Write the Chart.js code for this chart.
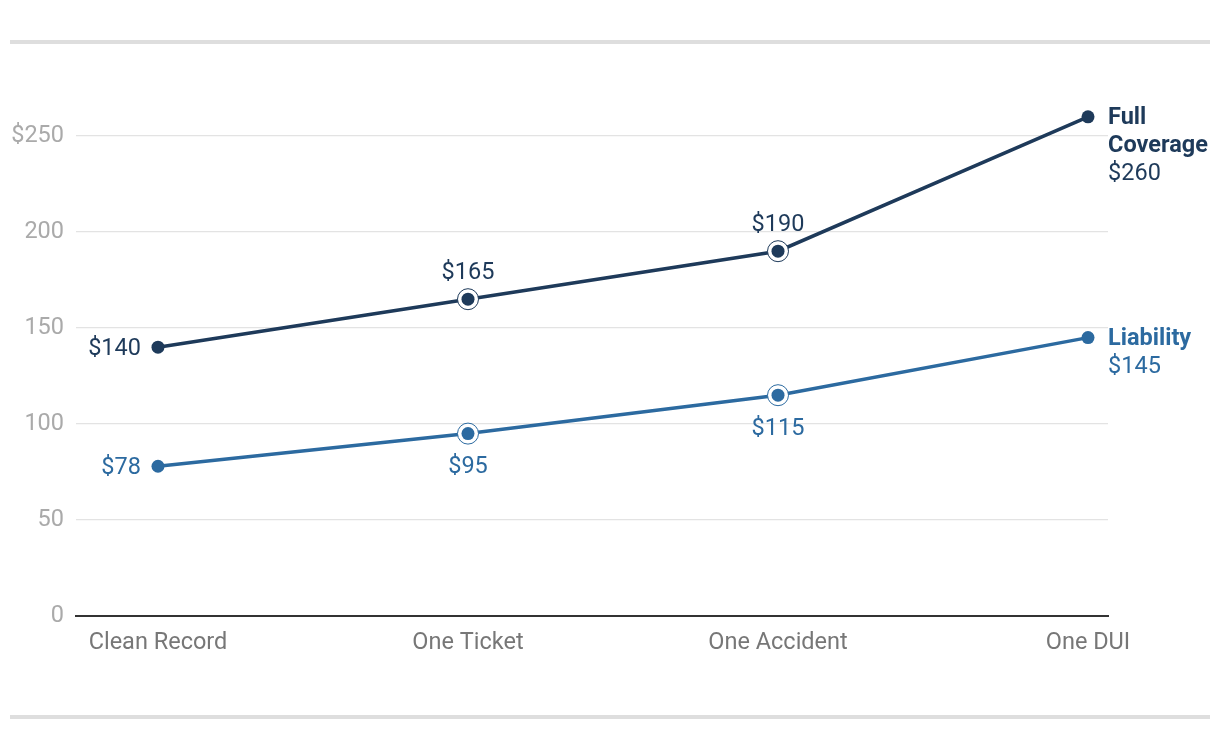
<!DOCTYPE html>
<html>
<head>
<meta charset="utf-8">
<script src="https://cdn.jsdelivr.net/npm/chart.js@4.4.1/dist/chart.umd.min.js"></script>
<style>
  html, body { margin: 0; padding: 0; background: #fff; }
  #wrap { position: relative; width: 1220px; height: 750px; }
  .rule { position: absolute; left: 10px; width: 1200px; height: 4px; background: #dedede; }
  canvas { position: absolute; left: 0; top: 0; }
</style>
</head>
<body>
<div id="wrap">
  <div class="rule" style="top:40px"></div>
  <div class="rule" style="top:715px"></div>
  <canvas id="c" width="1220" height="750"></canvas>
</div>
<script>
const categories = ["Clean Record", "One Ticket", "One Accident", "One DUI"];
const fullCoverage = [140, 165, 190, 260];
const liability = [78, 95, 115, 145];
const yTicks = [0, 50, 100, 150, 200, 250];
const seriesNames = [["Full", "Coverage"], ["Liability"]];

const NAVY = "#1e3a5a";
const BLUE = "#2c6aa0";
const FONT = "Roboto, 'Liberation Sans', sans-serif";
const FS = 23.5;

const labelPlugin = {
  id: "labels",
  afterDatasetsDraw(chart) {
    const ctx = chart.ctx;
    const xs = chart.scales.x, ys = chart.scales.y;
    chart.data.datasets.forEach((ds, di) => {
      const color = ds.borderColor;
      ds.data.forEach((p, i) => {
        const px = xs.getPixelForValue(p.x), py = ys.getPixelForValue(p.y);
        if (i > 0 && i < ds.data.length - 1) {
          ctx.save();
          ctx.beginPath();
          ctx.arc(px, py, 10.5, 0, Math.PI * 2);
          ctx.fillStyle = "#fff";
          ctx.fill();
          ctx.lineWidth = 1;
          ctx.strokeStyle = color;
          ctx.stroke();
          ctx.beginPath();
          ctx.arc(px, py, 6.5, 0, Math.PI * 2);
          ctx.fillStyle = color;
          ctx.fill();
          ctx.restore();
        }
        ctx.save();
        ctx.fillStyle = color;
        ctx.font = FS + "px " + FONT;
        const txt = "$" + p.y;
        if (i === 0) {
          ctx.textAlign = "right"; ctx.textBaseline = "middle";
          ctx.fillText(txt, px - 17, py + 1.5);
        } else if (i < ds.data.length - 1) {
          ctx.textAlign = "center";
          if (di === 0) { ctx.textBaseline = "bottom"; ctx.fillText(txt, px, py - 14); }
          else { ctx.textBaseline = "top"; ctx.fillText(txt, px, py + 22); }
        } else {
          ctx.textAlign = "left"; ctx.textBaseline = "middle";
          const names = seriesNames[di];
          ctx.font = "bold " + FS + "px " + FONT;
          names.forEach((n, k) => ctx.fillText(n, px + 20, py + 1.5 + k * 28));
          ctx.font = FS + "px " + FONT;
          ctx.fillText(txt, px + 20, py + 1.5 + names.length * 28);
        }
        ctx.restore();
      });
    });
  }
};

const toPts = arr => arr.map((v, i) => ({ x: i, y: v }));

new Chart(document.getElementById("c"), {
  type: "line",
  data: {
    datasets: [
      { data: toPts(fullCoverage), borderColor: NAVY, backgroundColor: NAVY, borderWidth: 3.5, pointRadius: 6.5, pointHoverRadius: 6.5, pointBorderWidth: 0, tension: 0 },
      { data: toPts(liability), borderColor: BLUE, backgroundColor: BLUE, borderWidth: 3.5, pointRadius: 6.5, pointHoverRadius: 6.5, pointBorderWidth: 0, tension: 0 }
    ]
  },
  options: {
    responsive: false,
    animation: false,
    events: [],
    layout: { padding: { top: 97.6, right: 112, left: 0, bottom: 0 } },
    plugins: { legend: { display: false }, tooltip: { enabled: false } },
    scales: {
      x: {
        type: "linear",
        min: -0.2645, max: 3.0645,
        afterBuildTicks: s => { s.ticks = categories.map((c, i) => ({ value: i })); },
        afterFit: s => { s.height = 134; },
        grid: { display: false, drawTicks: false },
        border: { display: true, color: "#333", width: 2 },
        ticks: { color: "#777", font: { family: FONT, size: FS }, padding: 13, maxRotation: 0, autoSkip: false,
                 callback: v => categories[v] }
      },
      y: {
        min: 0, max: 270,
        afterBuildTicks: s => { s.ticks = yTicks.map(v => ({ value: v })); },
        afterFit: s => { s.width = 76; },
        grid: { color: "#e3e3e3", lineWidth: 1.2, drawTicks: false },
        border: { display: false },
        ticks: { color: "#aaa", font: { family: FONT, size: FS }, padding: 12,
                 callback: v => (v === 250 ? "$" + v : String(v)) }
      }
    }
  },
  plugins: [labelPlugin]
});
</script>
</body>
</html>
